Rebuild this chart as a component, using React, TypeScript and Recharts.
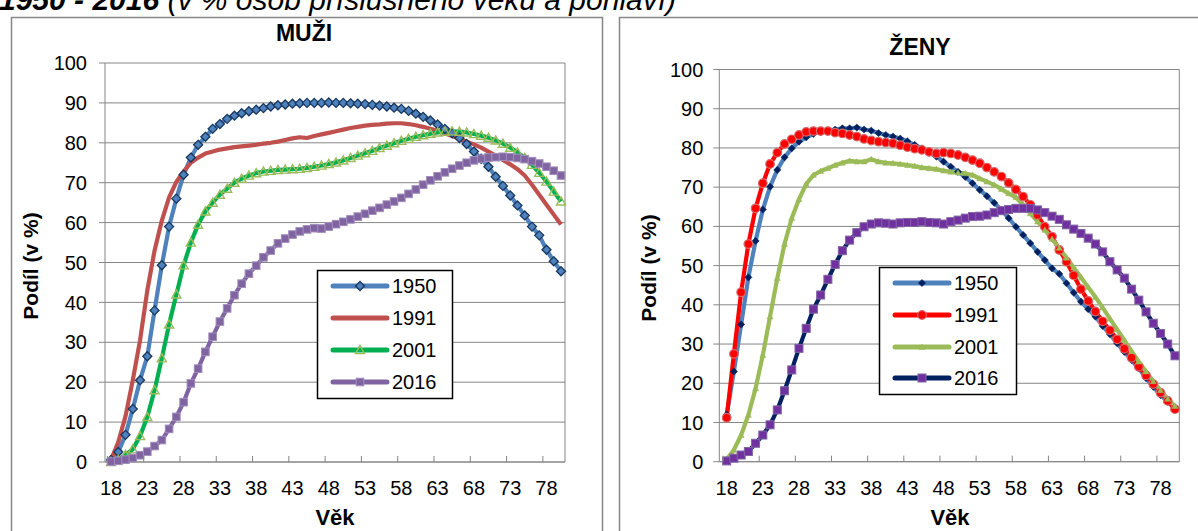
import { LineChart, Line, XAxis, YAxis, CartesianGrid, ReferenceLine } from "recharts";

// věk 18..80
const AGES = Array.from({ length: 63 }, (_, i) => 18 + i);
const AGE_TICKS = [18, 23, 28, 33, 38, 43, 48, 53, 58, 63, 68, 73, 78];
const PCT_TICKS = [0, 10, 20, 30, 40, 50, 60, 70, 80, 90, 100];

// MUŽI
const MUZI_1950 = [
  0.5, 2.5, 6.8, 13.3, 20.5, 26.5, 38, 49.3, 59, 66,
  72, 76.3, 79.5, 81.5, 83.5, 84.7, 86, 86.8, 87.4, 87.9,
  88.3, 88.7, 89.1, 89.4, 89.6, 89.8, 89.9, 90, 90, 90,
  90.1, 90, 90, 89.9, 89.8, 89.7, 89.5, 89.3, 89.1, 88.8,
  88.5, 88, 87.3, 86.5, 85.6, 84.6, 83.5, 82.4, 81.2, 79.7,
  77.8, 76, 74, 71.5, 69.2, 66.8, 64.3, 61.8, 59, 56.8,
  53.2, 50.3, 47.8,
];
const MUZI_1991 = [
  0.5, 5, 11.5, 20.5, 30.5, 43, 53, 60.5, 66.3, 70.2,
  72.8, 75, 76.3, 77.3, 77.8, 78.3, 78.6, 78.9, 79.1, 79.3,
  79.5, 79.8, 80, 80.3, 80.7, 81.1, 81.4, 81.2, 81.7, 82.1,
  82.5, 82.9, 83.3, 83.7, 84, 84.3, 84.5, 84.6, 84.8, 84.9,
  84.9, 84.7, 84.4, 84, 83.5, 83, 82.4, 81.7, 81, 80.3,
  79.6, 78.8, 77.8, 76.8, 75.7, 74.6, 73.4, 71.8, 69.5, 67,
  64.5, 62, 59.5,
];
const MUZI_2001 = [
  0, 0.5, 1.8, 3.2, 6.5, 11.3, 18, 26, 34.5, 42,
  49.3, 55, 59.5, 62.8, 65, 67, 68.5, 70, 71, 71.8,
  72.4, 72.8, 73, 73.2, 73.3, 73.4, 73.5, 73.7, 74, 74.3,
  74.7, 75.1, 75.6, 76.2, 76.8, 77.4, 78, 78.7, 79.3, 79.9,
  80.5, 81, 81.5, 81.9, 82.3, 82.6, 82.8, 82.9, 82.8, 82.6,
  82.2, 81.8, 81.3, 80.6, 79.8, 78.8, 77.6, 76.2, 74.5, 72.5,
  70.3, 67.8, 65.3,
];
const MUZI_2016 = [
  0.1, 0.3, 0.6, 1, 1.7, 2.6, 4, 5.5, 8.3, 11.3,
  15, 19.7, 23.4, 27.6, 31.4, 35.2, 38.5, 41.8, 44.7, 47.2,
  49.2, 51.3, 53, 54.8, 56, 57, 57.8, 58.3, 58.6, 58.5,
  59, 59.6, 60.2, 60.8, 61.5, 62.2, 63, 63.7, 64.5, 65.3,
  66.2, 67.2, 68.3, 69.5, 70.6, 71.6, 72.6, 73.5, 74.3, 75,
  75.6, 76, 76.3, 76.4, 76.5, 76.4, 76.2, 75.9, 75.4, 74.8,
  74, 73, 71.8,
];

// ŽENY
const ZENY_1950 = [
  12, 23, 35, 47, 56.3, 64.3, 70.1, 74.4, 77.6, 79.9,
  81.6, 82.7, 83.6, 84.1, 84.4, 84.7, 85, 85, 85.2, 84.7,
  84.4, 83.8, 83.3, 82.9, 82.4, 81.7, 80.8, 79.9, 78.8, 77.8,
  76.5, 75.2, 73.9, 72.6, 71, 69.3, 67.7, 66, 64.2, 62.1,
  59.9, 57.8, 55.7, 53.5, 51.4, 49.3, 47.9, 45.5, 43.1, 40.8,
  38.9, 37, 34.6, 32.5, 30.2, 28, 25.9, 23.8, 21.3, 19.1,
  17, 15.3, 13.6,
];
const ZENY_1991 = [
  11.2, 27.5, 43.2, 55.5, 64.6, 71, 75.9, 78.8, 81, 82.2,
  83.3, 84.1, 84.3, 84.3, 84.3, 83.9, 83.7, 83.3, 82.9, 82.3,
  81.9, 81.6, 81.4, 81.2, 80.7, 80.2, 79.8, 79.5, 79, 78.6,
  78.8, 78.6, 78.2, 77.6, 76.9, 76.1, 75, 73.9, 72.7, 71.1,
  69.4, 67.6, 65.5, 62.9, 59.9, 57.4, 54, 51, 47.5, 44,
  41, 38.3, 35.8, 33.5, 31.2, 28.8, 26.5, 24.2, 22, 19.8,
  17.6, 15.5, 13.4,
];
const ZENY_2001 = [
  0.6, 3, 6.8, 11.9, 18.7, 27.2, 37, 46.8, 55.5, 62.1,
  66.9, 70.8, 73.1, 74.1, 74.8, 75.6, 76.2, 76.7, 76.5, 76.5,
  77.1, 76.5, 76.2, 76.1, 75.9, 75.6, 75.4, 75, 74.8, 74.6,
  74.2, 73.9, 73.7, 73.5, 73.1, 72.2, 71.4, 70.6, 69.5, 68.4,
  67.4, 65.5, 63.3, 61.2, 59.1, 56.8, 54.5, 52, 49.5, 47,
  44.5, 42, 39.3, 36.5, 33.7, 31, 28.2, 25.5, 23, 20.5,
  18.2, 16, 14.2,
];
const ZENY_2016 = [
  0.2, 0.9, 1.7, 2.6, 4.7, 6.8, 9.4, 13.2, 18.1, 23.4,
  28.9, 34, 38.9, 42.5, 46.5, 50.3, 53.8, 56.5, 58.4, 59.9,
  60.6, 60.9, 60.8, 60.6, 60.9, 61, 61, 61.2, 61, 60.9,
  60.6, 61.2, 61.6, 62.1, 62.5, 62.6, 62.9, 63.5, 64, 64.3,
  64.6, 64.6, 64.6, 64.2, 63.5, 62.6, 61.8, 60.4, 59.3, 58.2,
  57, 55.5, 53.5, 51, 48.9, 46.8, 44, 41.2, 38.2, 35.3,
  32.7, 30, 27,
];

const YEARS = ["1950", "1991", "2001", "2016"];

const muziData = AGES.map((age, i) => ({
  age,
  "1950": MUZI_1950[i],
  "1991": MUZI_1991[i],
  "2001": MUZI_2001[i],
  "2016": MUZI_2016[i],
}));
const zenyData = AGES.map((age, i) => ({
  age,
  "1950": ZENY_1950[i],
  "1991": ZENY_1991[i],
  "2001": ZENY_2001[i],
  "2016": ZENY_2016[i],
}));

const GRAY = "#868686";
const FONT = "'Liberation Sans', Arial, sans-serif";

// marker shapes
const diamond = (r: number, fill: string, stroke: string, sw = 1) => (p: any) => {
  const { cx, cy, index } = p;
  if (cx == null || cy == null) return <g key={index} />;
  return (
    <path key={index} d={`M${cx},${cy - r}L${cx + r},${cy}L${cx},${cy + r}L${cx - r},${cy}Z`}
      fill={fill} stroke={stroke} strokeWidth={sw} />
  );
};
const triangle = (r: number, fill: string, stroke: string, sw = 1) => (p: any) => {
  const { cx, cy, index } = p;
  if (cx == null || cy == null) return <g key={index} />;
  return (
    <path key={index} d={`M${cx},${cy - r}L${cx + r},${cy + r * 0.8}L${cx - r},${cy + r * 0.8}Z`}
      fill={fill} stroke={stroke} strokeWidth={sw} />
  );
};
const square = (r: number, fill: string, stroke: string, sw = 1) => (p: any) => {
  const { cx, cy, index } = p;
  if (cx == null || cy == null) return <g key={index} />;
  return <rect key={index} x={cx - r} y={cy - r} width={r * 2} height={r * 2} fill={fill} stroke={stroke} strokeWidth={sw} />;
};
const circle = (r: number, fill: string, stroke: string, sw = 1) => (p: any) => {
  const { cx, cy, index } = p;
  if (cx == null || cy == null) return <g key={index} />;
  return <circle key={index} cx={cx} cy={cy} r={r} fill={fill} stroke={stroke} strokeWidth={sw} />;
};

const MUZI_STYLE: Record<string, { color: string; dot: any }> = {
  "1950": { color: "#4F81BD", dot: diamond(4.5, "#4F81BD", "#17375E", 1.3) },
  "1991": { color: "#C0504D", dot: null },
  "2001": { color: "#00B050", dot: triangle(4.5, "none", "#9BBB59", 1.4) },
  "2016": { color: "#8064A2", dot: square(3.8, "#8064A2", "#A18DBC", 1) },
};
const ZENY_STYLE: Record<string, { color: string; dot: any }> = {
  "1950": { color: "#4F81BD", dot: diamond(3.6, "#002060", "#002060", 0.5) },
  "1991": { color: "#FF0000", dot: circle(4.3, "#FF0000", "#D46A6A", 1.2) },
  "2001": { color: "#9BBB59", dot: triangle(3, "#9BBB59", "#9BBB59", 0.5) },
  "2016": { color: "#002060", dot: square(4, "#7030A0", "#8064A2", 1) },
};

const AgeTick = (half: number) => (p: any) => {
  const { x, y, payload } = p;
  return (
    <g>
      <line x1={x - half} x2={x - half} y1={y - 6} y2={y} stroke={GRAY} />
      <text x={x} y={y + 33} textAnchor="middle" fontSize={20} fontFamily={FONT} fill="#000">
        {payload.value}
      </text>
    </g>
  );
};

type PanelProps = {
  data: any[];
  style: Record<string, { color: string; dot: any }>;
  width: number;
  margin: { top: number; right: number; bottom: number; left: number };
  yWidth: number;
  xHeight: number;
  xDomain: [number, number];
  half: number;
  yMargin: number;
};

function Panel({ data, style, width, margin, yWidth, xHeight, xDomain, half, yMargin }: PanelProps) {
  return (
    <LineChart width={width} height={531} data={data} margin={margin}>
      <CartesianGrid vertical={false} stroke={GRAY} strokeDasharray="" />
      <XAxis
        dataKey="age"
        type="number"
        domain={xDomain}
        ticks={AGE_TICKS}
        interval={0}
        height={xHeight}
        axisLine={{ stroke: GRAY }}
        tickLine={false}
        tickSize={0}
        tickMargin={0}
        tick={AgeTick(half)}
      />
      <YAxis
        domain={[0, 100]}
        ticks={PCT_TICKS}
        interval={0}
        width={yWidth}
        axisLine={{ stroke: GRAY }}
        tickLine={{ stroke: GRAY }}
        tickSize={6}
        tickMargin={yMargin}
        tick={{ fontSize: 20, fontFamily: FONT, fill: "#000" }}
      />
      <ReferenceLine x={xDomain[1]} stroke={GRAY} />
      {YEARS.map((y) => (
        <Line
          key={y}
          dataKey={y}
          type="linear"
          stroke={style[y].color}
          strokeWidth={4.2}
          strokeLinejoin="round"
          dot={style[y].dot ?? false}
          activeDot={false}
          isAnimationActive={false}
        />
      ))}
    </LineChart>
  );
}

function LegendBox({ x, y, w, h, rows, style }: any) {
  return (
    <g>
      <rect x={x + 0.5} y={y + 0.5} width={w} height={h} fill="#fff" stroke="#000" strokeWidth={1.5} />
      {YEARS.map((yr, i) => {
        const cy = y + rows[i];
        const Dot = style[yr].dot;
        return (
          <g key={yr}>
            <line x1={x + 16} x2={x + 70} y1={cy} y2={cy} stroke={style[yr].color} strokeWidth={5} strokeLinecap="round" />
            {Dot ? Dot({ cx: x + 43, cy, index: i }) : null}
            <text x={x + 75} y={cy + 7} fontSize={20} fontFamily={FONT} fill="#000">{yr}</text>
          </g>
        );
      })}
    </g>
  );
}

export default function App() {
  return (
    <div style={{ position: "fixed", left: 0, top: 0, width: 1198, height: 531, overflow: "hidden", background: "#fff" }}>
      <svg width={1198} height={531} style={{ position: "absolute", left: 0, top: 0 }}>
        <text x={-1} y={10} fontSize={30} fontStyle="italic" fontFamily={FONT} fill="#000">
          <tspan fontWeight="bold">1950 - 2016</tspan>
          {" (v % osob příslušného věku a pohlaví)"}
        </text>
        <rect x={11.5} y={17.5} width={591} height={600} fill="none" stroke={GRAY} strokeWidth={1.5} />
        <rect x={619.5} y={17.5} width={700} height={600} fill="none" stroke={GRAY} strokeWidth={1.5} />
        <text x={304} y={41} textAnchor="middle" fontSize={23} fontWeight="bold" fontFamily={FONT}>MUŽI</text>
        <text x={920} y={55} textAnchor="middle" fontSize={23} fontWeight="bold" fontFamily={FONT}>ŽENY</text>
        <text x={335} y={525} textAnchor="middle" fontSize={22} fontWeight="bold" fontFamily={FONT}>Věk</text>
        <text x={950} y={525} textAnchor="middle" fontSize={22} fontWeight="bold" fontFamily={FONT}>Věk</text>
        <text transform="translate(38,266) rotate(-90)" textAnchor="middle" fontSize={21} fontWeight="bold" fontFamily={FONT}>Podíl (v %)</text>
        <text transform="translate(656,268) rotate(-90)" textAnchor="middle" fontSize={21} fontWeight="bold" fontFamily={FONT}>Podíl (v %)</text>
      </svg>
      <div style={{ position: "absolute", left: 0, top: 0 }}>
        <Panel
          data={muziData}
          style={MUZI_STYLE}
          width={603}
          margin={{ top: 63, right: 38, bottom: 0, left: 0 }}
          yWidth={105}
          xHeight={69}
          xDomain={[17.17, 80.55]}
          half={3.63}
          yMargin={12}
        />
      </div>
      <div style={{ position: "absolute", left: 603, top: 0 }}>
        <Panel
          data={zenyData}
          style={ZENY_STYLE}
          width={595}
          margin={{ top: 69.5, right: 18.7, bottom: 0, left: 0 }}
          yWidth={116.3}
          xHeight={69.3}
          xDomain={[16.98, 80.6]}
          half={3.62}
          yMargin={10}
        />
      </div>
      <svg width={1198} height={531} style={{ position: "absolute", left: 0, top: 0 }}>
        <LegendBox x={317} y={270} w={135} h={128} rows={[16, 48, 80, 112]} style={MUZI_STYLE} />
        <LegendBox x={879} y={267} w={137} h={127} rows={[16, 48, 80, 111]} style={ZENY_STYLE} />
      </svg>
    </div>
  );
}
